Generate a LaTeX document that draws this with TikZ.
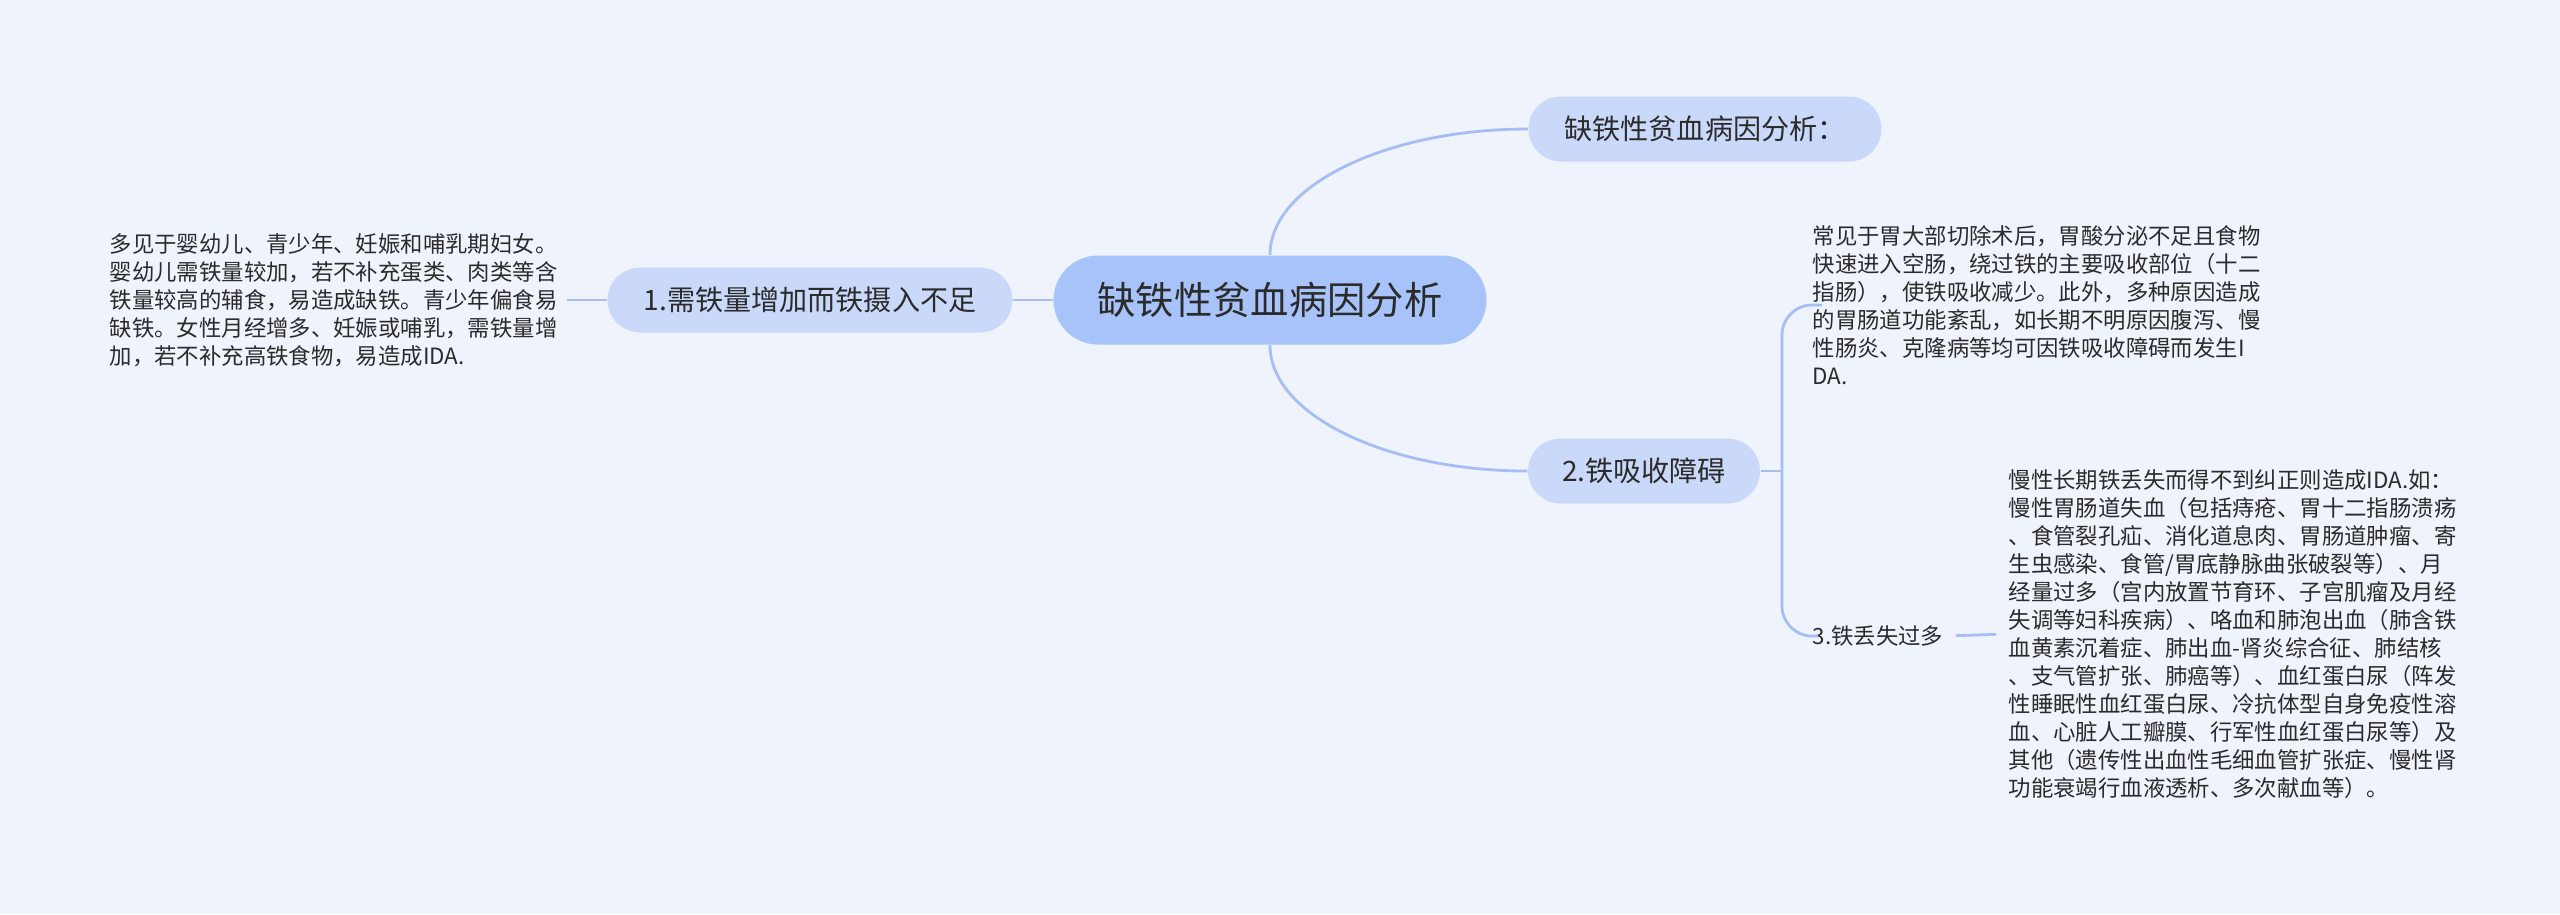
\documentclass[tikz,border=0pt]{standalone}
\usepackage{fontspec}
\newfontfamily\cjk{Noto Sans CJK SC}
\usepackage{xcolor}
\definecolor{mapbg}{HTML}{EEF3FC}
\definecolor{maproot}{HTML}{A8C3F9}
\definecolor{mapnode}{HTML}{CAD9FA}
\definecolor{mapline}{HTML}{A6BEF2}
\definecolor{maptext}{HTML}{2B2B2B}
\usetikzlibrary{positioning,backgrounds}

\begin{document}
\begin{tikzpicture}[
  font=\cjk, text=maptext,
  pill/.style={rectangle, fill=mapnode, minimum height=0.65cm, rounded corners=0.325cm, inner sep=0pt, font=\cjk\fontsize{8}{9.6}\selectfont},
  rootpill/.style={pill, fill=maproot, minimum height=0.89cm, rounded corners=0.445cm, font=\cjk\fontsize{10.9}{13}\selectfont},
  note/.style={anchor=west, align=left, inner sep=0pt, font=\cjk\fontsize{6.37}{7.97}\selectfont},
  ln/.style={mapline, line width=0.8pt},
]
% ---------------- background
\fill[mapbg] (0,0) rectangle (25.60,-9.14);
% ---------------- centre and main branches
\node[rootpill, minimum width=4.33cm] (root) at (12.70,-3.00) {缺铁性贫血病因分析};
\node[pill, minimum width=3.53cm] (title) at (17.05,-1.29) {缺铁性贫血病因分析：};
\node[pill, minimum width=4.05cm] (intake) at (8.10,-3.00) {1.需铁量增加而铁摄入不足};
\node[pill, minimum width=2.32cm] (absorb) at (16.44,-4.71) {2.铁吸收障碍};
\draw[ln] (root.north) .. controls +(0,0.70) and +(-1.40,0) .. (title.west);
\draw[ln] (root.south) .. controls +(0,-0.70) and +(-1.40,0) .. (absorb.west);
\draw[ln] (root.west) -- (intake.east);
% ---------------- left: intake note
\node[note] (intakenote) at (1.09,-3.00) {多见于婴幼儿、青少年、妊娠和哺乳期妇女。\\
婴幼儿需铁量较加，若不补充蛋类、肉类等含\\
铁量较高的辅食，易造成缺铁。青少年偏食易\\
缺铁。女性月经增多、妊娠或哺乳，需铁量增\\
加，若不补充高铁食物，易造成IDA.};
\draw[ln, shorten >=0.09cm] (intake.west) -- (intakenote.east);
% ---------------- right: absorption and loss
\coordinate (fork) at (17.82,-4.71);
\node[note] (absorbnote) at (18.12,-3.05) {常见于胃大部切除术后，胃酸分泌不足且食物\\
快速进入空肠，绕过铁的主要吸收部位（十二\\
指肠），使铁吸收减少。此外，多种原因造成\\
的胃肠道功能紊乱，如长期不明原因腹泻、慢\\
性肠炎、克隆病等均可因铁吸收障碍而发生I\\
DA.};
\node[note] (loss) at (18.12,-6.36) {3.铁丢失过多};
\node[note] (lossnote) at (20.08,-6.34) {慢性长期铁丢失而得不到纠正则造成IDA.如：\\
慢性胃肠道失血（包括痔疮、胃十二指肠溃疡\\
、食管裂孔疝、消化道息肉、胃肠道肿瘤、寄\\
生虫感染、食管/胃底静脉曲张破裂等）、月\\
经量过多（宫内放置节育环、子宫肌瘤及月经\\
失调等妇科疾病）、咯血和肺泡出血（肺含铁\\
血黄素沉着症、肺出血-肾炎综合征、肺结核\\
、支气管扩张、肺癌等）、血红蛋白尿（阵发\\
性睡眠性血红蛋白尿、冷抗体型自身免疫性溶\\
血、心脏人工瓣膜、行军性血红蛋白尿等）及\\
其他（遗传性出血性毛细血管扩张症、慢性肾\\
功能衰竭行血液透析、多次献血等）。};
\draw[ln] (absorb.east) -- (fork);
\draw[ln, rounded corners=0.3cm, shorten >=0.1cm] (fork) |- (absorbnote.west);
\draw[ln, rounded corners=0.3cm, shorten >=0.06cm] (fork) |- (loss.west);
\draw[ln, shorten <=0.12cm, shorten >=0.12cm] (loss.east) -- (lossnote.west);
\end{tikzpicture}
\end{document}
